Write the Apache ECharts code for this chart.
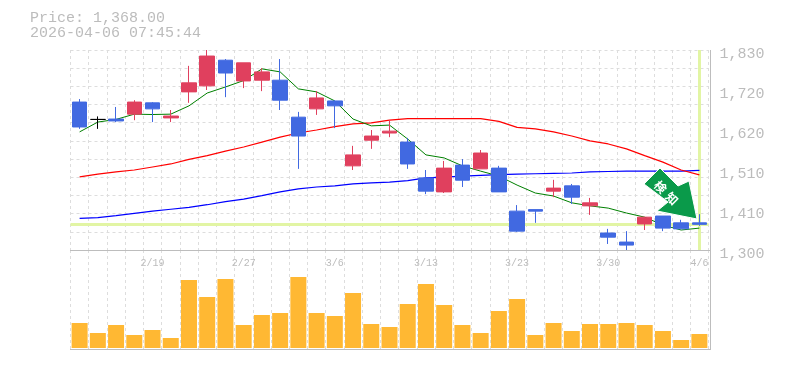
<!DOCTYPE html>
<html><head><meta charset="utf-8">
<style>html,body{margin:0;padding:0;background:#fff}#c{width:785px;height:370px}</style>
<script src="https://cdn.jsdelivr.net/npm/echarts@6/dist/echarts.min.js"></script>
</head><body><div id="c"></div>
<script>
const dates=['2/13','2/16','2/17','2/18','2/19','2/20','2/24','2/25','2/26','2/27','3/2','3/3','3/4','3/5','3/6','3/9','3/10','3/11','3/12','3/13','3/16','3/17','3/18','3/19','3/23','3/24','3/25','3/26','3/27','3/30','3/31','4/1','4/2','4/3','4/6'];
const shownDates=['2/19','2/27','3/6','3/13','3/23','3/30','4/6'];
const opens=[1692,1646,1647,1660,1690,1650,1719,1735,1803,1748,1750,1750,1652,1674,1695,1523,1591,1610,1586,1491,1454,1525,1515,1517,1403,1407,1456,1470,1417,1345,1321,1369,1390,1372,1372];
const closes=[1626,1646,1642,1692,1674,1655,1743,1814,1769,1796,1772,1697,1602,1703,1682,1552,1602,1615,1528,1456,1517,1485,1557,1454,1350,1403,1464,1440,1425,1334,1313,1387,1358,1356,1368];
const lows=[1621,1621,1639,1644,1639,1639,1690,1724,1705,1729,1721,1671,1515,1658,1623,1512,1568,1599,1515,1448,1451,1467,1515,1454,1348,1372,1440,1422,1393,1316,1300,1353,1350,1356,1364];
const highs=[1700,1654,1679,1697,1692,1671,1788,1830,1806,1796,1782,1806,1666,1721,1697,1576,1618,1644,1597,1512,1536,1541,1565,1523,1419,1407,1486,1475,1438,1356,1350,1387,1390,1380,1395];
const maShort=[1613,1639,1646,1660,1659,1660,1682,1716,1732,1749,1780,1772,1727,1719,1695,1647,1629,1631,1594,1552,1544,1523,1509,1496,1472,1451,1443,1425,1417,1411,1398,1387,1366,1353,1358];
const maMid=[1494,1501,1507,1512,1520,1528,1540,1550,1562,1573,1586,1599,1610,1618,1627,1634,1637,1644,1648,1648,1648,1648,1648,1641,1625,1621,1613,1602,1589,1581,1568,1550,1533,1512,1499];
const maLong=[1384,1386,1391,1397,1403,1408,1413,1420,1428,1435,1444,1454,1462,1467,1470,1475,1478,1480,1484,1491,1493,1496,1498,1500,1501,1502,1503,1504,1507,1508,1509,1509,1509,1509,1511];
const volumes=[25,15,23,13,18,10,68,51,69,23,33,35,71,35,32,55,24,21,44,64,43,23,15,37,49,13,25,17,24,24,25,23,17,8,14];
const priceTicks=['1,300','1,410','1,510','1,620','1,720','1,830'];
const gridSteps=['','','','','','','','','','','',''];
const lastPrice=1368, lastDate='4/6';
const titleLines=['Price: 1,368.00','2026-04-06 07:45:44'];
const arrowChars=['検','知'];

const GRAY='#bcbcbc', GRID='#dddddd', MONO='"Liberation Mono", monospace', PALE='#e2f5a4';
const split={show:true,interval:0,lineStyle:{color:GRID,type:[3,3],width:1}};
const candles=dates.map((d,i)=>{
  const v=[opens[i],closes[i],lows[i],highs[i]];
  return opens[i]===closes[i]
    ?{value:v,itemStyle:{color:'#000',color0:'#000',borderColor:'#000',borderColor0:'#000'}}
    :{value:v};
});
const line=(name,data,color,width)=>({name,type:'line',data,xAxisIndex:0,yAxisIndex:0,symbol:'none',z:2,
  lineStyle:{color,width},silent:true,animation:false});
const frame=(x1,y1,x2,y2)=>({type:'line',shape:{x1,y1,x2,y2},style:{stroke:'#bdbdbd',lineWidth:1},silent:true,z:1});
const chart=echarts.init(document.getElementById('c'),null,{renderer:'canvas'});
chart.setOption({
  animation:false,backgroundColor:'#fff',
  title:{text:titleLines.join('\n'),left:30,top:11,padding:0,textStyle:{fontFamily:MONO,fontSize:15,fontWeight:'normal',color:GRAY,lineHeight:15}},
  grid:[{left:70.5,top:50,width:638,height:200},{left:70.5,top:250,width:638,height:100},{left:70.5,top:54,width:638,height:200}],
  xAxis:[
    {type:'category',gridIndex:0,data:dates,axisLine:{show:false},axisTick:{show:false},axisLabel:{show:false},splitLine:split},
    {type:'category',gridIndex:1,data:dates,position:'top',axisLine:{show:false},axisTick:{show:false},splitLine:split,
     axisLabel:{inside:true,margin:8,fontFamily:MONO,fontSize:10,color:GRAY,interval:(i,v)=>shownDates.includes(v)}},
    {type:'category',gridIndex:2,data:dates,show:false}
  ],
  yAxis:[
    {type:'value',gridIndex:0,min:1300,max:1830,show:false,splitLine:{show:false}},
    {type:'category',gridIndex:2,data:priceTicks,position:'right',boundaryGap:false,axisLine:{show:false},axisTick:{show:false},splitLine:{show:false},
     axisLabel:{interval:0,margin:11,fontFamily:MONO,fontSize:15,color:GRAY,showMinLabel:true,showMaxLabel:true}},
    {type:'category',gridIndex:0,data:gridSteps,boundaryGap:false,axisLine:{show:false},axisTick:{show:false},axisLabel:{show:false},splitLine:split},
    {type:'value',gridIndex:1,min:-2,max:98,show:false,splitLine:{show:false}}
  ],
  series:[
    {type:'line',data:[],xAxisIndex:0,yAxisIndex:0,silent:true,
     markLine:{silent:true,symbol:'none',z:1,label:{show:false},animation:false,
       lineStyle:{color:PALE,width:3,type:'solid'},
       data:[{yAxis:lastPrice},{xAxis:lastDate}]}},
    line('long',maLong,'#0000ff',1.2),
    line('mid',maMid,'#ff0000',1.2),
    line('short',maShort,'#008000',1),
    {type:'candlestick',xAxisIndex:0,yAxisIndex:0,data:candles,barWidth:15,z:3,silent:true,clip:false,
     itemStyle:{color:'#e0405e',color0:'#4169e1',borderColor:'#e0405e',borderColor0:'#4169e1',borderWidth:1}},
    {type:'bar',xAxisIndex:1,yAxisIndex:3,data:volumes,barWidth:16,silent:true,itemStyle:{color:'#ffb833'}}
  ],
  graphic:[
    frame(70,250.5,710,250.5),frame(70,349.5,710,349.5),frame(710.5,50,710.5,350),
    {type:'polygon',z:20,silent:true,
     shape:{points:[[660,168],[678,186],[689,181],[697,219],[657,211],[668,202],[644,184]]},
     style:{fill:'#0a9a4a',stroke:'#fff',lineWidth:1}},
    {type:'text',z:21,silent:true,x:660.5,y:187,rotation:-Math.PI/4,
     style:{text:arrowChars[0],fill:'#fff',font:'bold 12px "Noto Sans CJK JP"',align:'center',verticalAlign:'middle'}},
    {type:'text',z:21,silent:true,x:672,y:198.5,rotation:-Math.PI/4,
     style:{text:arrowChars[1],fill:'#fff',font:'bold 12px "Noto Sans CJK JP"',align:'center',verticalAlign:'middle'}}
  ]
});
</script></body></html>
